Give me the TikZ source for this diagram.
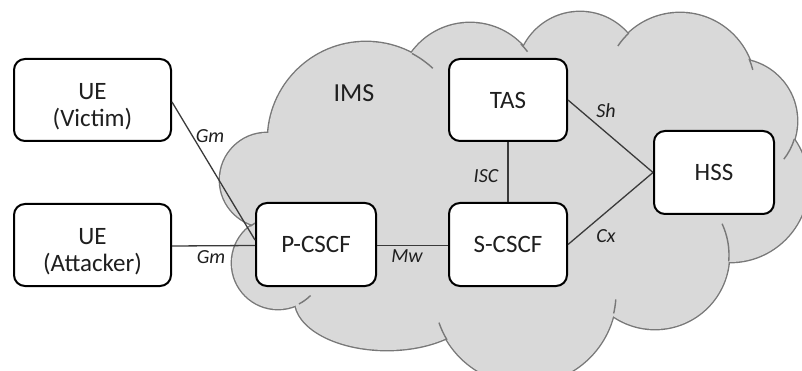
\documentclass[tikz,border=0pt]{standalone}
\usepackage{fontspec}
\setmainfont{Carlito}
\usetikzlibrary{calc}
\definecolor{cloudfill}{HTML}{D9D9D9}
\definecolor{cloudline}{HTML}{787878}
\definecolor{linkcol}{HTML}{3A3A3A}
\definecolor{txtcol}{HTML}{1F1F1F}
\begin{document}
\begin{tikzpicture}[x=1pt,y=-1pt,
  box/.style={draw=black, fill=white, line width=2pt, rounded corners=11pt, inner sep=0pt, text=txtcol, font=\fontsize{25}{27}\selectfont},
  boxtext/.style={text=txtcol, align=center, inner sep=0pt, font=\fontsize{25}{27}\selectfont},
  iface/.style={text=txtcol, inner sep=0pt, font=\fontsize{20}{22}\selectfont\itshape},
  link/.style={draw=linkcol, line width=1.3pt},
  bumpout/.style={fill=cloudfill, draw=cloudline, line width=2.8pt},
  bumpin/.style={fill=cloudfill},
  stub/.style={draw=cloudline, line width=1.4pt}]
\useasboundingbox (0,0) rectangle (802,371);
\begin{scope}
\clip (0,0) rectangle (802,371);
\foreach \cx/\cy/\rx/\ry in {267/180/47/47, 278/263/46/46, 387/300/92/50, 525/293/91/91, 655/255/74/74, 730/184/78/78, 735/121/62/62, 680/88/75/75, 580/75/63/63, 470/95/72/72, 366/140/98/98}
  \path[bumpout] (\cx,\cy) ellipse [x radius=\rx, y radius=\ry];
\foreach \cx/\cy/\rx/\ry in {267/180/47/47, 278/263/46/46, 387/300/92/50, 525/293/91/91, 655/255/74/74, 730/184/78/78, 735/121/62/62, 680/88/75/75, 580/75/63/63, 470/95/72/72, 366/140/98/98}
  \path[bumpin] (\cx,\cy) ellipse [x radius=\rx, y radius=\ry];
\fill[cloudfill] (267,180) -- (278,263) -- (387,300) -- (525,293) -- (655,255) -- (730,184) -- (735,121) -- (680,88) -- (580,75) -- (470,95) -- (366,140) -- cycle;
% stubs
\draw[stub] (366,140) ++(-62:98) arc [start angle=-62, end angle=-47, radius=98];
\draw[stub] (470,95) ++(-45:72) arc [start angle=-45, end angle=-37, radius=72];
\draw[stub] (680,88) ++(-133:75) arc [start angle=-133, end angle=-146, radius=75];
\draw[stub] (680,88) ++(-23:75) arc [start angle=-23, end angle=-14, radius=75];
\draw[stub] (735,121) ++(17:62) arc [start angle=17, end angle=38, radius=62];
\draw[stub] (655,255) ++(5:74) arc [start angle=5, end angle=-25, radius=74];
\draw[stub] (525,293) ++(13:91) arc [start angle=13, end angle=4, radius=91];
\draw[stub] (525,293) ++(149:91) arc [start angle=149, end angle=161, radius=91];
\draw[stub] (278,263) ++(63:46) arc [start angle=63, end angle=45, radius=46];
\draw[stub] (278,263) ++(-127:46) arc [start angle=-127, end angle=-110, radius=46];
\end{scope}

\node[text=txtcol, inner sep=0pt, font=\fontsize{26}{28}\selectfont] (ims) at (354,93) {IMS};

% boxes
\node[box, minimum width=157pt, minimum height=82pt] (uev) at (92.5,100) {};
\node[box, minimum width=157pt, minimum height=82pt] (uea) at (92.5,245) {};
\node[box, minimum width=120pt, minimum height=83pt] (pcscf) at (316,244.5) {P-CSCF};
\node[box, minimum width=118pt, minimum height=83pt] (scscf) at (508,244.5) {S-CSCF};
\node[box, minimum width=118pt, minimum height=82pt] (tas) at (508,100) {TAS};
\node[box, minimum width=120pt, minimum height=83pt] (hss) at (714,172.5) {HSS};
\node[boxtext] (uevt) at ([yshift=-7pt]uev.center) {UE\\(Victim)};
\node[boxtext] (ueat) at ([yshift=-7pt]uea.center) {UE\\(Attacker)};

% connectors
\draw[link] ([yshift=-2pt]uev.east) -- ([yshift=4.5pt]pcscf.west);
\draw[link] ([yshift=-1pt]uea.east) -- ([yshift=-1pt]pcscf.west);
\draw[link] ([yshift=-1pt]pcscf.east) -- ([yshift=-1pt]scscf.west);
\draw[link] (tas.south) -- (scscf.north);
\draw[link] (tas.east) -- (hss.west);
\draw[link] (scscf.east) -- (hss.west);

% interface labels
\node[iface] (gm1) at (210,136) {Gm};
\node[iface] (gm2) at (211,257) {Gm};
\node[iface] (mw) at (407,256) {Mw};
\node[iface] (isc) at (486,176) {ISC};
\node[iface] (sh) at (606,111) {Sh};
\node[iface] (cx) at (606,236) {Cx};
\end{tikzpicture}
\end{document}
